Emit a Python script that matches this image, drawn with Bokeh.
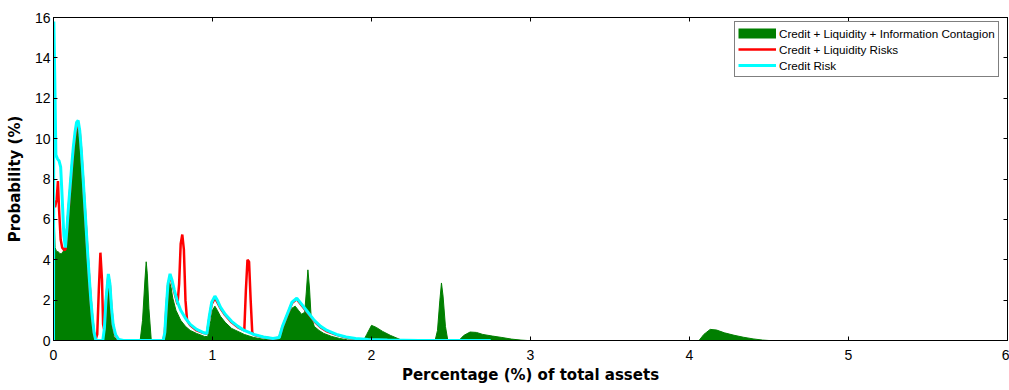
from bokeh.plotting import figure
from bokeh.models import (ColumnDataSource, LinearAxis, FixedTicker, Legend,
                          LegendItem, Range1d, CustomLabelingPolicy)
from bokeh.embed import file_html
from bokeh.resources import INLINE

# ---------------- data ----------------
labels = ["Credit + Liquidity + Information Contagion",
          "Credit + Liquidity Risks",
          "Credit Risk"]

x_ticks = [0, 1, 2, 3, 4, 5, 6]
y_ticks = [0, 2, 4, 6, 8, 10, 12, 14, 16]

# Credit + Liquidity + Information Contagion (green filled)
contagion_x = [0, 0.003, 0.01, 0.02, 0.03, 0.04, 0.05, 0.06, 0.07, 0.08, 0.09,
               0.1, 0.11, 0.12, 0.13, 0.14, 0.15, 0.16, 0.17, 0.18, 0.19, 0.2,
               0.21, 0.22, 0.23, 0.24, 0.25, 0.26, 0.31, 0.32, 0.33, 0.34, 0.35,
               0.36, 0.37, 0.38, 0.4, 0.545, 0.56, 0.575, 0.583, 0.59, 0.6,
               0.615, 0.69, 0.7, 0.71, 0.72, 0.73, 0.74, 0.75, 0.77, 0.8, 0.83,
               0.86, 0.9, 0.95, 0.97, 0.99, 1.0, 1.015, 1.03, 1.05, 1.08, 1.12,
               1.16, 1.2, 1.26, 1.32, 1.38, 1.42, 1.44, 1.46, 1.48, 1.5, 1.52,
               1.54, 1.56, 1.58, 1.59, 1.6, 1.61, 1.62, 1.64, 1.67, 1.7, 1.75,
               1.8, 1.85, 1.95, 1.97, 2.0, 2.03, 2.07, 2.12, 2.18, 2.22, 2.4,
               2.415, 2.43, 2.44, 2.45, 2.465, 2.48, 2.55, 2.58, 2.62, 2.66, 2.7,
               2.76, 2.82, 2.88, 2.94, 2.98, 4.06, 4.09, 4.13, 4.17, 4.22, 4.28,
               4.34, 4.4, 4.46, 4.5, 5.33]
contagion_y = [6.6, 6.6, 4.6, 4.4, 4.4, 4.3, 4.3, 4.4, 4.6, 5.4, 6.4,
               7.3, 8.2, 9.1, 9.8, 10.3, 10.5, 10.1, 9.1, 7.9, 6.6, 5.3,
               4.1, 2.9, 1.9, 1.0, 0.4, 0.05, 0.0, 0.5, 1.8, 2.8, 2.5,
               1.4, 0.6, 0.2, 0.0, 0.0, 1.0, 3.0, 3.9, 3.3, 1.6,
               0.0, 0.0, 0.3, 1.5, 2.5, 2.9, 2.6, 2.1, 1.5, 1.0, 0.7,
               0.5, 0.35, 0.2, 0.2, 1.0, 1.5, 1.7, 1.5, 1.2, 0.9, 0.6,
               0.45, 0.3, 0.15, 0.06, 0.02, 0.1, 0.6, 0.9, 1.3, 1.6, 1.7,
               1.5, 1.3, 1.4, 2.4, 3.5, 2.6, 1.2, 0.7, 0.5, 0.35, 0.2,
               0.1, 0.03, 0.0, 0.3, 0.75, 0.65, 0.45, 0.25, 0.05, 0.0, 0.0,
               0.5, 2.0, 2.85, 2.2, 0.7, 0.0, 0.0, 0.25, 0.42, 0.4, 0.3,
               0.22, 0.15, 0.07, 0.02, 0.0, 0.0, 0.3, 0.55, 0.52, 0.38, 0.26,
               0.16, 0.08, 0.02, 0.0, 0.0]

# Credit + Liquidity Risks (red line)
liquidity_x = [0, 0.002, 0.01, 0.02, 0.028, 0.035, 0.045, 0.055, 0.065, 0.075,
               0.085, 0.095, 0.105, 0.115, 0.125, 0.135, 0.145, 0.155, 0.165,
               0.175, 0.185, 0.195, 0.205, 0.215, 0.225, 0.235, 0.245, 0.255,
               0.265, 0.275, 0.285, 0.295, 0.305, 0.312, 0.32, 0.33, 0.345,
               0.355, 0.365, 0.375, 0.39, 0.41, 0.44, 0.69, 0.7, 0.71, 0.72,
               0.733, 0.745, 0.76, 0.78, 0.79, 0.8, 0.81, 0.82, 0.83, 0.84,
               0.86, 0.9, 0.94, 0.965, 0.98, 0.995, 1.015, 1.03, 1.05, 1.08,
               1.12, 1.16, 1.2, 1.21, 1.22, 1.23, 1.24, 1.25, 1.26, 1.32, 1.38,
               1.42, 1.44, 1.46, 1.48, 1.5, 1.53, 1.56, 1.6, 1.64, 1.68, 1.72,
               1.78, 1.84, 1.9, 1.98, 2.1, 2.3]
liquidity_y = [0.0, 6.9, 6.6, 7.0, 7.9, 6.5, 5.0, 4.6, 4.5, 4.5,
               5.4, 6.5, 7.5, 8.5, 9.4, 10.1, 10.6, 10.7, 10.3,
               9.3, 8.1, 6.8, 5.5, 4.2, 3.0, 1.9, 1.0, 0.35,
               0.05, 0.3, 2.5, 4.35, 3.0, 0.8, 0.5, 1.9, 3.2,
               2.7, 1.5, 0.7, 0.25, 0.03, 0.0, 0.0, 0.35, 1.6, 2.7,
               3.2, 2.9, 2.4, 1.8, 2.8, 4.8, 5.25, 4.5, 2.0, 1.0,
               0.75, 0.5, 0.38, 0.33, 1.1, 1.8, 2.1, 1.9, 1.6, 1.25,
               0.9, 0.65, 0.5, 2.5, 4.0, 3.9, 2.0, 0.4, 0.28, 0.16, 0.09,
               0.14, 0.65, 1.05, 1.45, 1.85, 2.05, 1.75, 1.35, 0.95, 0.65, 0.45,
               0.28, 0.15, 0.08, 0.04, 0.01, 0.0]

# Credit Risk (cyan line)
credit_x = [0, 0.002, 0.008, 0.015, 0.025, 0.035, 0.045, 0.055, 0.065, 0.075,
            0.085, 0.095, 0.105, 0.115, 0.125, 0.135, 0.145, 0.155, 0.165,
            0.175, 0.185, 0.195, 0.205, 0.215, 0.225, 0.235, 0.245, 0.255,
            0.265, 0.275, 0.31, 0.32, 0.33, 0.345, 0.355, 0.365, 0.375, 0.39,
            0.41, 0.44, 0.69, 0.7, 0.71, 0.72, 0.733, 0.745, 0.76, 0.78, 0.8,
            0.83, 0.86, 0.9, 0.94, 0.965, 0.98, 0.995, 1.015, 1.03, 1.05, 1.08,
            1.12, 1.16, 1.2, 1.26, 1.32, 1.38, 1.42, 1.44, 1.46, 1.48, 1.5,
            1.53, 1.56, 1.6, 1.64, 1.68, 1.72, 1.78, 1.84, 1.9, 1.98, 2.1, 2.3,
            2.75]
credit_y = [0.0, 15.8, 13.0, 9.2, 9.0, 8.9, 8.6, 7.0, 5.2, 4.6,
            5.6, 6.7, 7.7, 8.7, 9.6, 10.3, 10.8, 10.9, 10.4,
            9.4, 8.2, 6.9, 5.6, 4.3, 3.1, 2.0, 1.1, 0.4,
            0.05, 0.0, 0.0, 0.6, 2.0, 3.3, 2.8, 1.6, 0.8, 0.3,
            0.05, 0.0, 0.0, 0.4, 1.7, 2.8, 3.3, 3.0, 2.5, 1.9, 1.5,
            1.1, 0.8, 0.55, 0.4, 0.35, 1.2, 1.9, 2.2, 2.0, 1.65, 1.3,
            0.95, 0.7, 0.5, 0.3, 0.17, 0.1, 0.15, 0.7, 1.1, 1.5, 1.9,
            2.1, 1.8, 1.4, 1.0, 0.7, 0.5, 0.3, 0.17, 0.1, 0.05, 0.02, 0.0,
            0.0]

# ---------------- styling ----------------
GREEN = "#007f00"
RED = "#ff0000"
CYAN = "#00ffff"
TICK_FONT = "Liberation Sans"
LABEL_FONT = "DejaVu Sans"

p = figure(width=1009, height=390, output_backend="svg", toolbar_location=None,
           x_range=Range1d(0, 6), y_range=Range1d(0, 16),
           min_border_left=53, min_border_right=2, min_border_top=17,
           min_border_bottom=50, background_fill_color="white",
           border_fill_color="white")
p.xgrid.visible = False
p.ygrid.visible = False
p.outline_line_color = "black"
p.outline_line_width = 1
p.outline_line_alpha = 1.0

src_g = ColumnDataSource(dict(x=contagion_x, y=contagion_y))
src_r = ColumnDataSource(dict(x=liquidity_x, y=liquidity_y))
src_c = ColumnDataSource(dict(x=credit_x, y=credit_y))

p.varea(x="x", y1=0, y2="y", source=src_g, fill_color=GREEN, fill_alpha=1.0)
p.line("x", "y", source=src_g, line_color=GREEN, line_width=1)
r_red = p.line("x", "y", source=src_r, line_color=RED, line_width=2.5)
r_cyan = p.line("x", "y", source=src_c, line_color=CYAN, line_width=3)
# legend-only stand-in for the filled series (no visible data)
proxy_green = p.line(x=[float("nan")], y=[float("nan")], line_color=GREEN,
                     line_width=10)

no_labels = CustomLabelingPolicy(
    code="for (let i = 0; i < indices.size; i++) { indices.set(i, false) }\n"
         "return indices")


def style_axis(ax, ticks, show_labels):
    ax.ticker = FixedTicker(ticks=ticks)
    ax.major_tick_in = 4
    ax.major_tick_out = 0
    ax.minor_tick_in = 0
    ax.minor_tick_out = 0
    ax.axis_line_color = "black"
    ax.major_tick_line_color = "black"
    if show_labels:
        ax.major_label_text_font = TICK_FONT
        ax.major_label_text_font_size = "14px"
        ax.major_label_text_color = "black"
    else:
        ax.major_label_text_font_size = "0px"
        ax.major_label_standoff = 0
        ax.major_label_policy = no_labels


top_ax = LinearAxis()
right_ax = LinearAxis()
p.add_layout(top_ax, "above")
p.add_layout(right_ax, "right")

xa = p.below[0]
ya = p.left[0]
style_axis(xa, x_ticks, True)
style_axis(ya, y_ticks, True)
style_axis(top_ax, x_ticks, False)
style_axis(right_ax, y_ticks, False)

xa.major_label_standoff = 9
ya.major_label_standoff = 3
xa.axis_label = "Percentage (%) of total assets"
ya.axis_label = "Probability (%)"
for ax in (xa, ya):
    ax.axis_label_text_font = LABEL_FONT
    ax.axis_label_text_font_size = "15px"
    ax.axis_label_text_font_style = "bold"
    ax.axis_label_text_color = "black"
xa.axis_label_standoff = 3
ya.axis_label_standoff = 8

legend = Legend(items=[LegendItem(label=labels[0], renderers=[proxy_green]),
                       LegendItem(label=labels[1], renderers=[r_red]),
                       LegendItem(label=labels[2], renderers=[r_cyan])],
                location=(681, 263))
legend.label_text_font = TICK_FONT
legend.label_text_font_size = "11.7px"
legend.label_text_color = "black"
legend.glyph_width = 38
legend.glyph_height = 16
legend.label_height = 16
legend.label_standoff = 3
legend.spacing = 0
legend.padding = 3
legend.margin = 0
legend.border_line_color = "black"
legend.border_line_width = 1
legend.background_fill_color = "white"
legend.background_fill_alpha = 1.0
p.add_layout(legend, "center")

open("out.html", "w").write(file_html(p, INLINE))
